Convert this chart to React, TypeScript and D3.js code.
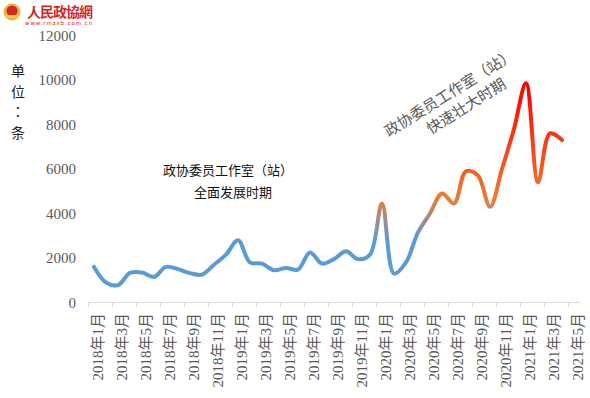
import * as d3 from 'd3';
import { useMemo } from 'react';

const CATEGORIES = [
  '2018年1月', '2018年2月', '2018年3月', '2018年4月', '2018年5月', '2018年6月',
  '2018年7月', '2018年8月', '2018年9月', '2018年10月', '2018年11月', '2018年12月',
  '2019年1月', '2019年2月', '2019年3月', '2019年4月', '2019年5月', '2019年6月',
  '2019年7月', '2019年8月', '2019年9月', '2019年10月', '2019年11月', '2019年12月',
  '2020年1月', '2020年2月', '2020年3月', '2020年4月', '2020年5月', '2020年6月',
  '2020年7月', '2020年8月', '2020年9月', '2020年10月', '2020年11月', '2020年12月',
  '2021年1月', '2021年2月', '2021年3月', '2021年4月', '2021年5月'
];

// monthly counts (2018-01 .. 2021-04)
const VALUES = [
  1600, 900, 780, 1330, 1350, 1150, 1600, 1500, 1320, 1250, 1700, 2150,
  2800, 1800, 1750, 1450, 1550, 1480, 2250, 1750, 1950, 2300, 1950, 2150,
  4450, 1300, 1800, 3150, 4000, 4900, 4450, 5900, 5700, 4300, 6000, 7800,
  9850, 5400, 7600, 7300
];

const Y_TICKS = [0, 2000, 4000, 6000, 8000, 10000, 12000];

const GRADIENT_STOPS = [
  { value: 0, color: '#5B9BD5' },
  { value: 2900, color: '#5B9BD5' },
  { value: 4700, color: '#ED7D31' },
  { value: 9700, color: '#FF0000' },
  { value: 12000, color: '#FF0000' }
];

const WIDTH = 590;
const HEIGHT = 398;
const LABEL_FONT = '"Liberation Serif", "Noto Sans CJK SC", serif';

export default function App() {
  const x = useMemo(() => d3.scaleBand<string>().domain(CATEGORIES).range([88, 580]).padding(0), []);
  const y = useMemo(() => d3.scaleLinear().domain([0, 12000]).range([302.5, 35.5]), []);
  const bw = x.bandwidth();

  const linePath = useMemo(() => {
    const line = d3.line<number>()
      .x((_, i) => (x(CATEGORIES[i]) ?? 0) + bw / 2)
      .y(d => y(d))
      .curve(d3.curveCatmullRom.alpha(0.5));
    return line(VALUES) ?? '';
  }, [x, y, bw]);

  // tick marks every two months, labels on odd months
  const tickIdx = CATEGORIES.map((_, i) => i).filter(i => i % 2 === 0);

  return (
    <div style={{ position: 'absolute', left: 0, top: 0 }}>
      <svg width={WIDTH} height={HEIGHT} style={{ display: 'block', background: '#fff' }}>
        <defs>
          <linearGradient id="lineGrad" gradientUnits="userSpaceOnUse" x1={0} x2={0} y1={y(0)} y2={y(12000)}>
            {GRADIENT_STOPS.map((s, i) => (
              <stop key={i} offset={s.value / 12000} stopColor={s.color} />
            ))}
          </linearGradient>
        </defs>

        {/* logo */}
        <g>
          <circle cx={12} cy={12} r={8.5} fill="#E9B440" />
          <circle cx={12} cy={11} r={5.5} fill="#D7261E" />
          <rect x={5} y={15} width={14} height={3} fill="#F2C94C" />
          <text x={27} y={11} dominantBaseline="central" fontSize={14} fontWeight={700}
            fill="#D7261E" fontFamily='"Noto Sans CJK TC", sans-serif' letterSpacing={-1}>
            人民政協網
          </text>
          <text x={25} y={22.5} dominantBaseline="central" fontSize={5.5}
            fill="#D7261E" fontFamily='"DejaVu Sans", sans-serif' letterSpacing={0.9}>
            www.rmzxb.com.cn
          </text>
        </g>

        {/* y axis unit */}
        {['单', '位', '：', '条'].map((c, i) => (
          <text key={i} x={18} y={70 + i * 20.5} textAnchor="middle" dominantBaseline="central"
            fontSize={14} fill="#222"
            fontFamily={c === '：' ? '"Noto Sans CJK TC", sans-serif' : '"Noto Sans CJK SC", sans-serif'}>
            {c}
          </text>
        ))}

        {/* y tick labels */}
        {Y_TICKS.map(t => (
          <text key={t} x={76} y={y(t)} textAnchor="end" dominantBaseline="central"
            fontSize={15} fill="#595959" fontFamily={LABEL_FONT}>
            {t}
          </text>
        ))}

        {/* x axis */}
        <line x1={88} x2={580} y1={302.5} y2={302.5} stroke="#D9D9D9" strokeWidth={1} />
        {tickIdx.map(i => {
          const tx = Math.round(x(CATEGORIES[i]) ?? 0) + 0.5;
          return <line key={i} x1={tx} x2={tx} y1={302.5} y2={307} stroke="#D9D9D9" strokeWidth={1} />;
        })}
        {tickIdx.map(i => {
          const cx = (x(CATEGORIES[i]) ?? 0) + bw / 2 + 3.5;
          return (
            <text key={i} transform={`translate(${cx},313) rotate(-90)`} textAnchor="end"
              dominantBaseline="central" fontSize={15} fill="#595959" fontFamily={LABEL_FONT}>
              {CATEGORIES[i]}
            </text>
          );
        })}

        {/* series */}
        <path d={linePath} fill="none" stroke="url(#lineGrad)" strokeWidth={4}
          strokeLinecap="round" strokeLinejoin="round" />

        {/* annotations */}
        <g fontFamily='"Noto Sans CJK SC", sans-serif' fontSize={13} fill="#111">
          <text x={163} y={169} dominantBaseline="central">政协委员工作室（站）</text>
          <text x={194} y={191} dominantBaseline="central">全面发展时期</text>
        </g>
        <g transform="translate(449,92) rotate(-32)" fontFamily='"Noto Sans CJK SC", sans-serif'
          fontSize={15} fill="#595959">
          <text x={0} y={0} textAnchor="middle" dominantBaseline="central">政协委员工作室（站）</text>
          <text x={7} y={20} textAnchor="middle" dominantBaseline="central">快速壮大时期</text>
        </g>
      </svg>
    </div>
  );
}
